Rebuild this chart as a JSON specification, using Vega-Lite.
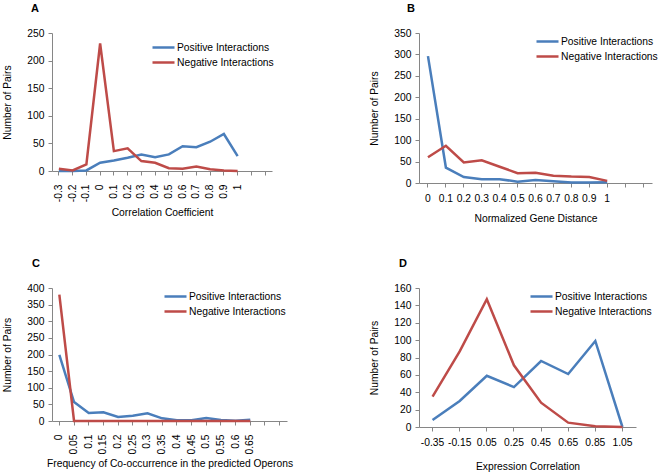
{
  "$schema": "https://vega.github.io/schema/vega-lite/v6.json",
  "padding": {"left": 2, "top": 3, "right": 0, "bottom": 0},
  "columns": 2,
  "bounds": "flush",
  "spacing": {"row": 105, "column": 132},
  "resolve": {"legend": {"color": "independent"}},
  "datasets": {
    "A": [
      {"x": "-0.3", "series": "Positive Interactions", "n": 0},
      {"x": "-0.2", "series": "Positive Interactions", "n": 0},
      {"x": "-0.1", "series": "Positive Interactions", "n": 1},
      {"x": "0", "series": "Positive Interactions", "n": 15},
      {"x": "0.1", "series": "Positive Interactions", "n": 19},
      {"x": "0.2", "series": "Positive Interactions", "n": 24},
      {"x": "0.3", "series": "Positive Interactions", "n": 30},
      {"x": "0.4", "series": "Positive Interactions", "n": 25},
      {"x": "0.5", "series": "Positive Interactions", "n": 30},
      {"x": "0.6", "series": "Positive Interactions", "n": 45},
      {"x": "0.7", "series": "Positive Interactions", "n": 43},
      {"x": "0.8", "series": "Positive Interactions", "n": 53},
      {"x": "0.9", "series": "Positive Interactions", "n": 67},
      {"x": "1", "series": "Positive Interactions", "n": 27},
      {"x": "-0.3", "series": "Negative Interactions", "n": 4},
      {"x": "-0.2", "series": "Negative Interactions", "n": 1},
      {"x": "-0.1", "series": "Negative Interactions", "n": 12},
      {"x": "0", "series": "Negative Interactions", "n": 231},
      {"x": "0.1", "series": "Negative Interactions", "n": 36},
      {"x": "0.2", "series": "Negative Interactions", "n": 41},
      {"x": "0.3", "series": "Negative Interactions", "n": 18},
      {"x": "0.4", "series": "Negative Interactions", "n": 15},
      {"x": "0.5", "series": "Negative Interactions", "n": 5},
      {"x": "0.6", "series": "Negative Interactions", "n": 4},
      {"x": "0.7", "series": "Negative Interactions", "n": 8},
      {"x": "0.8", "series": "Negative Interactions", "n": 3},
      {"x": "0.9", "series": "Negative Interactions", "n": 1},
      {"x": "1", "series": "Negative Interactions", "n": 0}
    ],
    "B": [
      {"x": "0", "series": "Positive Interactions", "n": 296},
      {"x": "0.1", "series": "Positive Interactions", "n": 36},
      {"x": "0.2", "series": "Positive Interactions", "n": 14},
      {"x": "0.3", "series": "Positive Interactions", "n": 9},
      {"x": "0.4", "series": "Positive Interactions", "n": 9},
      {"x": "0.5", "series": "Positive Interactions", "n": 3},
      {"x": "0.6", "series": "Positive Interactions", "n": 7},
      {"x": "0.7", "series": "Positive Interactions", "n": 4},
      {"x": "0.8", "series": "Positive Interactions", "n": 1},
      {"x": "0.9", "series": "Positive Interactions", "n": 1},
      {"x": "1", "series": "Positive Interactions", "n": 2},
      {"x": "0", "series": "Negative Interactions", "n": 60},
      {"x": "0.1", "series": "Negative Interactions", "n": 87},
      {"x": "0.2", "series": "Negative Interactions", "n": 48},
      {"x": "0.3", "series": "Negative Interactions", "n": 53},
      {"x": "0.4", "series": "Negative Interactions", "n": 38},
      {"x": "0.5", "series": "Negative Interactions", "n": 23},
      {"x": "0.6", "series": "Negative Interactions", "n": 24},
      {"x": "0.7", "series": "Negative Interactions", "n": 17},
      {"x": "0.8", "series": "Negative Interactions", "n": 15},
      {"x": "0.9", "series": "Negative Interactions", "n": 14},
      {"x": "1", "series": "Negative Interactions", "n": 5}
    ],
    "C": [
      {"x": "0", "series": "Positive Interactions", "n": 199},
      {"x": "0.05", "series": "Positive Interactions", "n": 57},
      {"x": "0.1", "series": "Positive Interactions", "n": 24},
      {"x": "0.15", "series": "Positive Interactions", "n": 26},
      {"x": "0.2", "series": "Positive Interactions", "n": 12},
      {"x": "0.25", "series": "Positive Interactions", "n": 16},
      {"x": "0.3", "series": "Positive Interactions", "n": 23},
      {"x": "0.35", "series": "Positive Interactions", "n": 8},
      {"x": "0.4", "series": "Positive Interactions", "n": 2},
      {"x": "0.45", "series": "Positive Interactions", "n": 2},
      {"x": "0.5", "series": "Positive Interactions", "n": 9},
      {"x": "0.55", "series": "Positive Interactions", "n": 3},
      {"x": "0.6", "series": "Positive Interactions", "n": 1},
      {"x": "0.65", "series": "Positive Interactions", "n": 4},
      {"x": "0", "series": "Negative Interactions", "n": 380},
      {"x": "0.05", "series": "Negative Interactions", "n": 0},
      {"x": "0.1", "series": "Negative Interactions", "n": 0},
      {"x": "0.15", "series": "Negative Interactions", "n": 0},
      {"x": "0.2", "series": "Negative Interactions", "n": 0},
      {"x": "0.25", "series": "Negative Interactions", "n": 0},
      {"x": "0.3", "series": "Negative Interactions", "n": 0},
      {"x": "0.35", "series": "Negative Interactions", "n": 0},
      {"x": "0.4", "series": "Negative Interactions", "n": 0},
      {"x": "0.45", "series": "Negative Interactions", "n": 0},
      {"x": "0.5", "series": "Negative Interactions", "n": 0},
      {"x": "0.55", "series": "Negative Interactions", "n": 0},
      {"x": "0.6", "series": "Negative Interactions", "n": 0},
      {"x": "0.65", "series": "Negative Interactions", "n": 0}
    ],
    "D": [
      {"x": "-0.35", "series": "Positive Interactions", "n": 8},
      {"x": "-0.15", "series": "Positive Interactions", "n": 30},
      {"x": "0.05", "series": "Positive Interactions", "n": 59},
      {"x": "0.25", "series": "Positive Interactions", "n": 46},
      {"x": "0.45", "series": "Positive Interactions", "n": 76},
      {"x": "0.65", "series": "Positive Interactions", "n": 61},
      {"x": "0.85", "series": "Positive Interactions", "n": 99},
      {"x": "1.05", "series": "Positive Interactions", "n": 0},
      {"x": "-0.35", "series": "Negative Interactions", "n": 35},
      {"x": "-0.15", "series": "Negative Interactions", "n": 87},
      {"x": "0.05", "series": "Negative Interactions", "n": 147},
      {"x": "0.25", "series": "Negative Interactions", "n": 71},
      {"x": "0.45", "series": "Negative Interactions", "n": 28},
      {"x": "0.65", "series": "Negative Interactions", "n": 5},
      {"x": "0.85", "series": "Negative Interactions", "n": 1},
      {"x": "1.05", "series": "Negative Interactions", "n": 0}
    ]
  },
  "concat": [
    {
      "width": 220, "height": 138,
      "title": {"text": "A", "anchor": "start", "frame": "group", "dx": -21, "offset": 14, "fontSize": 11, "fontWeight": "bold"},
      "data": {"name": "A"},
      "mark": {"type": "line", "strokeWidth": 2.5},
      "encoding": {
        "x": {"field": "x", "type": "ordinal",
          "scale": {"type": "band", "paddingInner": 0, "paddingOuter": 0,
            "domain": ["-0.3","-0.2","-0.1","0","0.1","0.2","0.3","0.4","0.5","0.6","0.7","0.8","0.9","1","e1","e2"]},
          "axis": {"title": "Correlation Coefficient", "labelAngle": -90, "labelExpr": "slice(datum.value, 0, 1) == 'e' ? '' : datum.value", "labelPadding": 9, "titlePadding": 6}},
        "y": {"field": "n", "type": "quantitative",
          "scale": {"domain": [0, 250], "nice": false},
          "axis": {"title": "Number of Pairs", "values": [0, 50, 100, 150, 200, 250]}},
        "color": {"field": "series", "type": "nominal",
          "scale": {"domain": ["Positive Interactions", "Negative Interactions"], "range": ["#4a7ebb", "#be4b48"]},
          "legend": {"orient": "none", "legendX": 99, "legendY": 9, "title": null}}
      }
    },
    {
      "width": 233, "height": 150,
      "title": {"text": "B", "anchor": "start", "frame": "group", "dx": -12, "offset": 14, "fontSize": 11, "fontWeight": "bold"},
      "data": {"name": "B"},
      "mark": {"type": "line", "strokeWidth": 2.5},
      "encoding": {
        "x": {"field": "x", "type": "ordinal",
          "scale": {"type": "band", "paddingInner": 0, "paddingOuter": 0,
            "domain": ["0","0.1","0.2","0.3","0.4","0.5","0.6","0.7","0.8","0.9","1","e1","e2"]},
          "axis": {"title": "Normalized Gene Distance", "labelAngle": 0, "labelExpr": "slice(datum.value, 0, 1) == 'e' ? '' : datum.value", "labelPadding": 6, "titlePadding": 10}},
        "y": {"field": "n", "type": "quantitative",
          "scale": {"domain": [0, 350], "nice": false},
          "axis": {"title": "Number of Pairs", "values": [0, 50, 100, 150, 200, 250, 300, 350]}},
        "color": {"field": "series", "type": "nominal",
          "scale": {"domain": ["Positive Interactions", "Negative Interactions"], "range": ["#4a7ebb", "#be4b48"]},
          "legend": {"orient": "none", "legendX": 116, "legendY": 3, "title": null}}
      }
    },
    {
      "width": 235, "height": 133,
      "title": {"text": "C", "anchor": "start", "frame": "group", "dx": -20, "offset": 14, "fontSize": 11, "fontWeight": "bold"},
      "data": {"name": "C"},
      "mark": {"type": "line", "strokeWidth": 2.5},
      "encoding": {
        "x": {"field": "x", "type": "ordinal",
          "scale": {"type": "band", "paddingInner": 0, "paddingOuter": 0,
            "domain": ["0","0.05","0.1","0.15","0.2","0.25","0.3","0.35","0.4","0.45","0.5","0.55","0.6","0.65","e1","e2"]},
          "axis": {"title": "Frequency of Co-occurrence in the predicted Operons", "labelAngle": -90, "labelExpr": "slice(datum.value, 0, 1) == 'e' ? '' : datum.value", "labelPadding": 9, "titlePadding": 4}},
        "y": {"field": "n", "type": "quantitative",
          "scale": {"domain": [0, 400], "nice": false},
          "axis": {"title": "Number of Pairs", "values": [0, 50, 100, 150, 200, 250, 300, 350, 400]}},
        "color": {"field": "series", "type": "nominal",
          "scale": {"domain": ["Positive Interactions", "Negative Interactions"], "range": ["#4a7ebb", "#be4b48"]},
          "legend": {"orient": "none", "legendX": 111, "legendY": 3, "title": null}}
      }
    },
    {
      "width": 217, "height": 139,
      "title": {"text": "D", "anchor": "start", "frame": "group", "dx": -20, "offset": 14, "fontSize": 11, "fontWeight": "bold"},
      "data": {"name": "D"},
      "mark": {"type": "line", "strokeWidth": 2.5},
      "encoding": {
        "x": {"field": "x", "type": "ordinal",
          "scale": {"type": "band", "paddingInner": 0, "paddingOuter": 0,
            "domain": ["-0.35","-0.15","0.05","0.25","0.45","0.65","0.85","1.05"]},
          "axis": {"title": "Expression Correlation", "labelAngle": 0, "labelPadding": 6, "titlePadding": 14}},
        "y": {"field": "n", "type": "quantitative",
          "scale": {"domain": [0, 160], "nice": false},
          "axis": {"title": "Number of Pairs", "values": [0, 20, 40, 60, 80, 100, 120, 140, 160]}},
        "color": {"field": "series", "type": "nominal",
          "scale": {"domain": ["Positive Interactions", "Negative Interactions"], "range": ["#4a7ebb", "#be4b48"]},
          "legend": {"orient": "none", "legendX": 110, "legendY": 3, "title": null}}
      }
    }
  ],
  "config": {
    "view": {"stroke": null},
    "font": "Liberation Sans",
    "title": {"color": "#000"},
    "axis": {"grid": false, "domainColor": "#868686", "tickColor": "#868686", "tickSize": 4,
      "labelColor": "#000", "labelFontSize": 10.3, "titleFontSize": 10.3, "titleFontWeight": "normal", "titleColor": "#000"},
    "axisY": {"labelPadding": 4, "titlePadding": 14},
    "legend": {"symbolType": "stroke", "symbolStrokeWidth": 2.5, "symbolSize": 484, "clipHeight": 11,
      "rowPadding": 4, "labelFontSize": 10.3, "labelColor": "#000", "labelOffset": 1, "padding": 0}
  }
}
